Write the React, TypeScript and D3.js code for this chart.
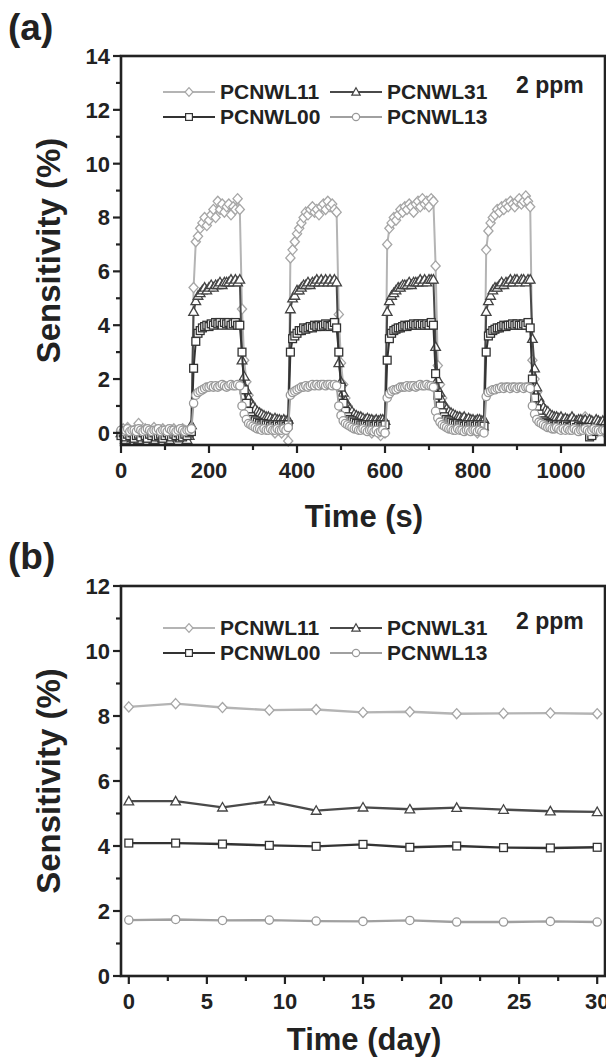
import React from "react";
import * as d3 from "d3";

// ---------- Panel (a) data: time (s) every 5 s ----------
const timeA: number[] = d3.range(0, 1101, 5);

const pcnwl11A: number[] = [
  0.1,0.15,0.05,0.2,0.1,0.0,0.1,0.15,0.35,0.1,0.05,0.15,0.0,0.1,0.05,0.2,0.1,-0.05,0.1,0.15,0.05,0.1,-0.1,0.1,0.15,0.05,0.1,0.0,0.15,0.1,0.05,0.1,0.15,
  5.4,7.1,7.3,7.6,7.8,8.0,7.7,7.9,8.1,8.3,8.0,8.6,8.3,8.5,8.2,8.4,8.5,8.1,8.4,8.3,8.7,8.3,
  4.6,2.7,1.9,1.4,1.1,0.8,0.6,0.4,0.35,0.3,0.2,0.3,0.5,0.2,0.1,0.0,0.2,0.1,0.0,0.2,0.3,-0.3,
  6.5,6.8,7.1,7.4,7.6,7.8,8.0,8.2,8.1,8.3,8.4,8.2,8.3,8.1,8.4,8.5,8.3,8.6,8.4,8.5,8.3,8.2,
  4.4,2.6,1.8,1.3,1.0,0.8,0.6,0.5,0.4,0.3,0.3,0.2,0.4,0.2,0.1,0.0,0.2,0.1,0.0,-0.1,0.1,0.0,
  7.0,7.6,7.8,8.0,7.9,8.1,8.3,8.2,8.4,8.3,8.5,8.4,8.2,8.5,8.6,8.4,8.7,8.5,8.6,8.4,8.7,8.6,
  6.2,2.5,1.8,1.3,1.0,0.8,0.7,0.6,0.5,0.4,0.4,0.3,0.3,0.2,0.3,0.2,0.1,0.2,0.1,0.0,0.1,0.2,0.1,
  6.8,7.5,7.8,8.0,8.1,8.3,8.2,8.4,8.3,8.5,8.4,8.6,8.5,8.4,8.6,8.7,8.5,8.6,8.8,8.6,8.4,
  2.7,2.0,1.5,1.2,1.0,0.8,0.7,0.6,0.5,0.5,0.4,0.4,0.3,0.3,0.4,0.3,0.5,0.3,0.2,0.3,0.2,0.2,0.1,0.3,0.6,0.1,0.2,0.1,0.2,0.0,0.1,0.2,0.1,0.0,
];

const pcnwl31A: number[] = [
  0.0,-0.1,-0.25,0.05,-0.1,-0.2,0.0,-0.15,-0.25,0.0,-0.1,0.05,-0.2,-0.1,0.0,-0.25,-0.1,0.0,-0.15,-0.2,0.0,-0.1,-0.25,-0.05,-0.1,0.0,-0.15,-0.2,-0.1,0.0,-0.25,-0.1,0.3,
  4.5,4.9,5.1,5.2,5.3,5.4,5.3,5.4,5.5,5.4,5.5,5.5,5.6,5.5,5.6,5.6,5.6,5.7,5.6,5.7,5.6,5.7,
  2.7,2.1,1.6,1.3,1.1,1.0,0.9,0.8,0.75,0.7,0.65,0.6,0.6,0.55,0.5,0.55,0.5,0.5,0.45,0.5,0.45,0.5,
  4.6,5.0,5.1,5.3,5.3,5.4,5.5,5.5,5.6,5.5,5.6,5.6,5.7,5.6,5.7,5.6,5.7,5.6,5.7,5.6,5.7,5.6,
  2.6,1.9,1.5,1.2,1.0,0.9,0.8,0.7,0.65,0.6,0.6,0.55,0.5,0.55,0.5,0.5,0.45,0.5,0.45,0.5,0.5,0.45,
  4.5,4.9,5.1,5.2,5.3,5.4,5.4,5.5,5.5,5.5,5.6,5.5,5.6,5.6,5.6,5.7,5.6,5.7,5.6,5.7,5.7,5.7,
  3.2,2.0,1.5,1.2,1.0,0.9,0.8,0.75,0.7,0.65,0.6,0.6,0.55,0.6,0.5,0.55,0.5,0.5,0.45,0.5,0.5,0.45,0.5,
  4.5,4.9,5.1,5.3,5.4,5.4,5.5,5.6,5.5,5.6,5.6,5.7,5.6,5.7,5.7,5.6,5.7,5.7,5.6,5.7,5.7,
  3.5,2.4,1.7,1.3,1.1,0.95,0.85,0.8,0.7,0.65,0.6,0.6,0.55,0.6,0.5,0.55,0.5,0.5,0.6,0.5,0.45,0.5,0.5,0.45,0.5,0.4,0.5,0.45,0.4,0.5,0.45,0.4,0.45,0.4,
];

const pcnwl00A: number[] = [
  -0.1,0.0,-0.15,-0.05,-0.1,0.0,-0.2,-0.1,-0.05,-0.15,0.0,-0.1,-0.2,-0.05,-0.1,0.0,-0.15,-0.1,-0.05,-0.2,-0.1,0.0,-0.1,-0.15,-0.05,-0.1,0.0,-0.1,-0.15,-0.05,-0.1,0.0,0.05,
  2.4,3.4,3.7,3.8,3.9,3.95,4.0,3.95,4.05,4.0,4.1,4.05,4.1,4.0,4.1,4.05,4.1,4.0,4.05,4.1,4.0,4.0,
  3.0,1.6,1.1,0.8,0.6,0.5,0.45,0.4,0.35,0.3,0.35,0.3,0.3,0.25,0.3,0.25,0.3,0.25,0.3,0.3,0.25,0.3,
  3.0,3.5,3.6,3.7,3.8,3.8,3.9,3.85,3.9,3.95,3.9,4.0,3.95,4.0,3.95,4.0,4.05,4.0,3.95,4.0,4.1,3.9,
  3.0,1.7,1.1,0.8,0.6,0.5,0.45,0.4,0.35,0.35,0.3,0.3,0.3,0.25,0.3,0.3,0.25,0.3,0.25,0.3,0.25,0.3,
  2.7,3.5,3.7,3.8,3.85,3.9,3.9,3.95,4.0,3.95,4.0,4.0,4.05,4.0,4.05,4.0,4.05,4.0,4.05,4.0,4.1,4.0,
  2.2,1.4,1.0,0.75,0.6,0.5,0.45,0.4,0.35,0.3,0.35,0.3,0.3,0.25,0.3,0.25,0.3,0.3,0.25,0.3,0.25,0.3,0.25,
  3.0,3.6,3.7,3.8,3.85,3.9,3.9,3.95,4.0,3.95,4.0,4.0,4.05,4.0,4.05,4.0,4.0,4.05,4.0,4.1,3.9,
  2.0,1.3,0.9,0.7,0.55,0.45,0.4,0.35,0.3,0.3,0.25,0.3,0.25,0.3,0.25,0.3,0.25,0.2,0.25,0.3,0.2,0.25,0.2,0.2,0.15,0.2,-0.15,-0.1,0.1,0.05,0.1,0.15,0.1,0.15,
];

const pcnwl13A: number[] = [
  0.1,0.05,0.1,0.15,0.05,0.1,0.1,0.05,0.15,0.1,0.05,0.1,0.15,0.1,0.05,0.1,0.1,0.15,0.05,0.1,0.1,0.05,0.15,0.1,0.1,0.05,0.1,0.15,0.1,0.05,0.1,0.1,0.15,
  1.1,1.4,1.5,1.55,1.6,1.65,1.7,1.7,1.75,1.7,1.75,1.7,1.75,1.8,1.75,1.7,1.75,1.8,1.75,1.75,1.8,1.75,
  1.0,0.7,0.5,0.35,0.3,0.25,0.2,0.15,0.15,0.1,0.15,0.1,0.1,0.15,0.1,0.1,0.15,0.1,0.1,0.15,0.1,0.2,
  1.4,1.5,1.55,1.6,1.65,1.7,1.7,1.75,1.7,1.75,1.8,1.75,1.8,1.75,1.8,1.8,1.75,1.8,1.8,1.75,1.8,1.75,
  1.0,0.65,0.45,0.35,0.3,0.25,0.2,0.15,0.15,0.1,0.1,0.15,0.1,0.05,0.1,0.1,0.05,0.1,0.0,0.05,0.1,0.0,
  1.3,1.45,1.55,1.6,1.6,1.65,1.7,1.7,1.7,1.75,1.7,1.75,1.75,1.7,1.75,1.8,1.75,1.75,1.8,1.75,1.75,1.7,
  0.8,0.55,0.4,0.3,0.25,0.2,0.15,0.15,0.1,0.1,0.15,0.1,0.1,0.05,0.1,0.1,0.05,0.1,0.1,0.05,0.1,0.05,0.0,
  1.35,1.5,1.55,1.6,1.6,1.65,1.65,1.7,1.65,1.7,1.7,1.65,1.7,1.7,1.65,1.7,1.7,1.65,1.7,1.7,1.65,
  1.0,0.7,0.5,0.4,0.35,0.3,0.25,0.2,0.2,0.15,0.15,0.2,0.15,0.1,0.15,0.1,0.15,0.1,0.1,0.15,0.1,0.05,0.1,0.1,0.15,0.1,0.05,0.1,0.15,0.1,0.1,0.05,0.1,0.1,
];

// ---------- Panel (b) data: time (day) ----------
const daysB: number[] = [0, 3, 6, 9, 12, 15, 18, 21, 24, 27, 30];
const pcnwl11B: number[] = [8.28, 8.38, 8.26, 8.18, 8.2, 8.11, 8.13, 8.07, 8.08, 8.09, 8.07];
const pcnwl31B: number[] = [5.38, 5.38, 5.19, 5.38, 5.09, 5.19, 5.13, 5.18, 5.12, 5.07, 5.05];
const pcnwl00B: number[] = [4.09, 4.09, 4.06, 4.02, 3.99, 4.05, 3.96, 4.0, 3.95, 3.94, 3.96];
const pcnwl13B: number[] = [1.72, 1.74, 1.71, 1.72, 1.69, 1.68, 1.71, 1.66, 1.66, 1.68, 1.66];

// ---------- ticks ----------
const aXTicks = [0, 200, 400, 600, 800, 1000];
const aXMinor = [100, 300, 500, 700, 900];
const aYTicks = [0, 2, 4, 6, 8, 10, 12, 14];
const aYMinor = [1, 3, 5, 7, 9, 11, 13];
const bXTicks = [0, 5, 10, 15, 20, 25, 30];
const bXMinor = [2.5, 7.5, 12.5, 17.5, 22.5, 27.5];
const bYTicks = [0, 2, 4, 6, 8, 10, 12];
const bYMinor = [1, 3, 5, 7, 9, 11];

const seriesNames = ["PCNWL11", "PCNWL31", "PCNWL00", "PCNWL13"];

// styles
const FONT = "'Liberation Sans', Arial, Helvetica, sans-serif";
const INK = "#222";
const styles: Record<string, { line: string; mark: string; shape: string }> = {
  PCNWL11: { line: "#b4b4b4", mark: "#a6a6a6", shape: "diamond" },
  PCNWL31: { line: "#4a4a4a", mark: "#444", shape: "triangle" },
  PCNWL00: { line: "#333", mark: "#333", shape: "square" },
  PCNWL13: { line: "#a0a0a0", mark: "#999", shape: "circle" },
};

function Marker({ shape, x, y, s, stroke, sw }: { shape: string; x: number; y: number; s: number; stroke: string; sw: number }) {
  const common = { fill: "#fff", stroke, strokeWidth: sw };
  if (shape === "diamond")
    return <path d={`M${x},${y - s * 1.1}L${x + s},${y}L${x},${y + s * 1.1}L${x - s},${y}Z`} {...common} />;
  if (shape === "triangle")
    return <path d={`M${x},${y - s * 1.05}L${x + s * 1.05},${y + s * 0.8}L${x - s * 1.05},${y + s * 0.8}Z`} {...common} />;
  if (shape === "square") return <rect x={x - s * 0.85} y={y - s * 0.85} width={s * 1.7} height={s * 1.7} {...common} />;
  return <circle cx={x} cy={y} r={s * 0.9} {...common} />;
}

type PanelProps = {
  left: number; right: number; top: number; bottom: number;
  xDomain: [number, number]; yDomain: [number, number];
  xTicks: number[]; xMinor: number[]; yTicks: number[]; yMinor: number[];
  xs: number[]; series: number[][];
  markSize: number; lineW: number;
  xTitle: string; xTitleY: number; tag: string; tagY: number;
  legendY1: number; legendY2: number;
};

function Panel(p: PanelProps) {
  const x = d3.scaleLinear().domain(p.xDomain).range([p.left, p.right]);
  const y = d3.scaleLinear().domain(p.yDomain).range([p.bottom, p.top]);
  const line = d3.line<number>().x((_, i) => x(p.xs[i])).y((d) => y(d));
  const cy = (p.top + p.bottom) / 2;
  const legendItems = [
    { name: seriesNames[0], lx: 163, row: p.legendY1 },
    { name: seriesNames[1], lx: 330, row: p.legendY1 },
    { name: seriesNames[2], lx: 163, row: p.legendY2 },
    { name: seriesNames[3], lx: 330, row: p.legendY2 },
  ];
  return (
    <g>
      <text x={8} y={p.tagY} fontFamily={FONT} fontWeight="bold" fontSize={37} fill={INK}>{p.tag}</text>
      {/* data */}
      {p.series.map((vals, si) => {
        const st = styles[seriesNames[si]];
        return (
          <g key={si}>
            <path d={line(vals) || ""} fill="none" stroke={st.line} strokeWidth={p.lineW} strokeLinejoin="round" />
            {vals.map((v, i) => (
              <Marker key={i} shape={st.shape} x={x(p.xs[i])} y={y(v)} s={p.markSize} stroke={st.mark} sw={1.3} />
            ))}
          </g>
        );
      })}
      {/* frame */}
      <rect x={p.left} y={p.top} width={p.right - p.left} height={p.bottom - p.top} fill="none" stroke={INK} strokeWidth={2.6} />
      {/* x ticks */}
      {p.xTicks.map((t) => (
        <g key={"xt" + t}>
          <line x1={x(t)} x2={x(t)} y1={p.bottom} y2={p.bottom + 8} stroke={INK} strokeWidth={2.2} />
          <text x={x(t)} y={p.bottom + 33} textAnchor="middle" fontFamily={FONT} fontWeight="bold" fontSize={22} fill={INK}>{t}</text>
        </g>
      ))}
      {p.xMinor.map((t) => (
        <line key={"xm" + t} x1={x(t)} x2={x(t)} y1={p.bottom} y2={p.bottom + 5} stroke={INK} strokeWidth={2.2} />
      ))}
      {/* y ticks */}
      {p.yTicks.map((t) => (
        <g key={"yt" + t}>
          <line x1={p.left - 8} x2={p.left} y1={y(t)} y2={y(t)} stroke={INK} strokeWidth={2.2} />
          <text x={p.left - 11} y={y(t)} dy="0.36em" textAnchor="end" fontFamily={FONT} fontWeight="bold" fontSize={22} fill={INK}>{t}</text>
        </g>
      ))}
      {p.yMinor.map((t) => (
        <line key={"ym" + t} x1={p.left - 5} x2={p.left} y1={y(t)} y2={y(t)} stroke={INK} strokeWidth={2.2} />
      ))}
      {/* titles */}
      <text x={364} y={p.xTitleY} textAnchor="middle" fontFamily={FONT} fontWeight="bold" fontSize={31} fill={INK}>{p.xTitle}</text>
      <text transform={`translate(60,${cy}) rotate(-90)`} textAnchor="middle" fontFamily={FONT} fontWeight="bold" fontSize={33} fill={INK}>Sensitivity (%)</text>
      {/* legend */}
      {legendItems.map((it) => {
        const st = styles[it.name];
        return (
          <g key={it.name}>
            <line x1={it.lx} x2={it.lx + 52} y1={it.row} y2={it.row} stroke={st.line} strokeWidth={2.2} />
            <Marker shape={st.shape} x={it.lx + 26} y={it.row} s={4} stroke={st.mark} sw={1.2} />
            <text x={it.lx + 57} y={it.row} dy="0.35em" fontFamily={FONT} fontWeight="bold" fontSize={21} fill={INK}>{it.name}</text>
          </g>
        );
      })}
      <text x={516} y={p.legendY1 - 1} dy="0.1em" fontFamily={FONT} fontWeight="bold" fontSize={23} fill={INK}>2 ppm</text>
    </g>
  );
}

export default function App() {
  return (
    <svg width={606} height={1063} style={{ position: "absolute", left: 0, top: 0, background: "#fff" }}>
      <rect x={0} y={0} width={606} height={1063} fill="#fff" />
      <Panel
        left={121} right={605} top={56} bottom={445}
        xDomain={[0, 1100]} yDomain={[-0.45, 14]}
        xTicks={aXTicks} xMinor={aXMinor} yTicks={aYTicks} yMinor={aYMinor}
        xs={timeA} series={[pcnwl11A, pcnwl31A, pcnwl00A, pcnwl13A]}
        markSize={4.6} lineW={2}
        xTitle="Time (s)" xTitleY={527} tag="(a)" tagY={40}
        legendY1={92} legendY2={117}
      />
      <Panel
        left={121} right={605} top={586} bottom={976}
        xDomain={[-0.5, 30.5]} yDomain={[0, 12]}
        xTicks={bXTicks} xMinor={bXMinor} yTicks={bYTicks} yMinor={bYMinor}
        xs={daysB} series={[pcnwl11B, pcnwl31B, pcnwl00B, pcnwl13B]}
        markSize={4.6} lineW={2.4}
        xTitle="Time (day)" xTitleY={1050} tag="(b)" tagY={569}
        legendY1={628} legendY2={653}
      />
    </svg>
  );
}
